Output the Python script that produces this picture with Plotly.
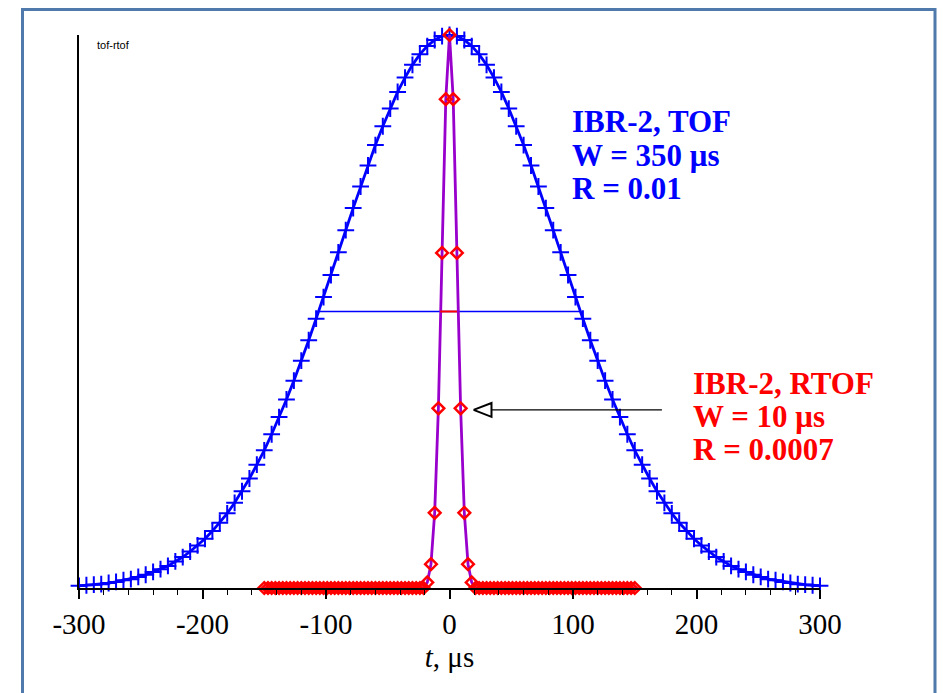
import plotly.graph_objects as go

# ---------------- data ----------------
tof_t = list(range(-300, 301, 6))
tof_y = [
    0.004, 0.005, 0.006, 0.007, 0.009, 0.011, 0.014, 0.016, 0.020, 0.024,
    0.029, 0.034, 0.040, 0.048, 0.056, 0.066, 0.077, 0.089, 0.103, 0.118,
    0.135, 0.154, 0.175, 0.198, 0.223, 0.249, 0.278, 0.309, 0.341, 0.375,
    0.411, 0.448, 0.487, 0.526, 0.566, 0.607, 0.647, 0.687, 0.726, 0.764,
    0.801, 0.835, 0.867, 0.897, 0.923, 0.946, 0.965, 0.980, 0.991, 0.998,
    1.000,
    0.998, 0.991, 0.980, 0.965, 0.946, 0.923, 0.897, 0.867, 0.835, 0.801,
    0.764, 0.726, 0.687, 0.647, 0.607, 0.566, 0.526, 0.487, 0.448, 0.411,
    0.375, 0.341, 0.309, 0.278, 0.249, 0.223, 0.198, 0.175, 0.154, 0.135,
    0.118, 0.103, 0.089, 0.077, 0.066, 0.056, 0.048, 0.040, 0.034, 0.029,
    0.024, 0.020, 0.016, 0.014, 0.011, 0.009, 0.007, 0.006, 0.005, 0.004,
]

rtof_t = list(range(-150, 151, 3))
rtof_y = [
    0, 0, 0, 0, 0, 0, 0, 0, 0, 0, 0, 0, 0, 0, 0, 0, 0, 0, 0, 0, 0, 0,
    0, 0, 0, 0, 0, 0, 0, 0, 0, 0, 0, 0, 0, 0, 0, 0, 0, 0, 0, 0, 0, 0,
    0.010, 0.043, 0.136, 0.325, 0.606, 0.884,
    1.000,
    0.884, 0.606, 0.325, 0.136, 0.043, 0.010,
    0, 0, 0, 0, 0, 0, 0, 0, 0, 0, 0, 0, 0, 0, 0, 0, 0, 0, 0, 0, 0, 0,
    0, 0, 0, 0, 0, 0, 0, 0, 0, 0, 0, 0, 0, 0, 0, 0, 0, 0, 0, 0, 0, 0,
]

tof_fwhm_t = [-107, 106]
tof_fwhm_y = [0.5, 0.5]
rtof_fwhm_t = [-7.5, 6]
rtof_fwhm_y = [0.5, 0.5]

arrow_line_t = [172, 34]
arrow_line_y = [0.322, 0.322]
arrow_head_t = [19.5, 34, 34, 19.5]
arrow_head_y = [0.322, 0.3345, 0.3095, 0.322]

x_ticks = [-300, -200, -100, 0, 100, 200, 300]
x_ticklabels = ["-300", "-200", "-100", "0", "100", "200", "300"]

tof_label = ["IBR-2, TOF", "W = 350 μs", "R = 0.01"]
rtof_label = ["IBR-2, RTOF", "W = 10 μs", "R = 0.0007"]

SERIF = "Liberation Serif, Times New Roman, serif"

# plot area in screen pixels (page has an 8px body margin)
PX_L, PX_R, PX_T, PX_B = 79, 820, 35, 588
OFF = 8


def px_x(px):
    return (px - PX_L) / (PX_R - PX_L)


def px_y(py):
    return (PX_B - py) / (PX_B - PX_T)


fig = go.Figure()

fig.add_trace(go.Scatter(
    x=tof_t, y=tof_y, mode="lines+markers",
    line=dict(color="#0000ff", width=2.8),
    marker=dict(symbol="cross-thin", size=12, line=dict(color="#0000ff", width=2)),
    cliponaxis=False, showlegend=False, hoverinfo="skip"))

fig.add_trace(go.Scatter(
    x=tof_fwhm_t, y=tof_fwhm_y, mode="lines",
    line=dict(color="#0000ff", width=1.5),
    showlegend=False, hoverinfo="skip"))

fig.add_trace(go.Scatter(
    x=rtof_t, y=rtof_y, mode="lines+markers",
    line=dict(color="#9900cc", width=2.8),
    marker=dict(symbol="diamond-open", size=9, color="#ff0000",
                line=dict(color="#ff0000", width=2.5)),
    cliponaxis=False, showlegend=False, hoverinfo="skip"))

fig.add_trace(go.Scatter(
    x=rtof_fwhm_t, y=rtof_fwhm_y, mode="lines",
    line=dict(color="#ff0000", width=2),
    showlegend=False, hoverinfo="skip"))

fig.add_trace(go.Scatter(
    x=arrow_line_t, y=arrow_line_y, mode="lines",
    line=dict(color="black", width=1.3),
    showlegend=False, hoverinfo="skip"))
fig.add_trace(go.Scatter(
    x=arrow_head_t, y=arrow_head_y, mode="lines",
    line=dict(color="black", width=2),
    showlegend=False, hoverinfo="skip"))

annotations = [
    dict(x=px_x(95), y=px_y(37), xref="paper", yref="paper", xanchor="left", yanchor="top",
         text="tof-rtof", showarrow=False,
         font=dict(family="Liberation Sans, Arial, sans-serif", size=11, color="black")),
]
for i, (txt, yc) in enumerate(zip(tof_label, [121, 155, 188])):
    annotations.append(dict(
        x=px_x(570), y=px_y(yc), xref="paper", yref="paper",
        xanchor="left", yanchor="middle", showarrow=False,
        text="<b>" + txt + "</b>",
        font=dict(family=SERIF, size=31, color="#0000ff")))
for i, (txt, yc) in enumerate(zip(rtof_label, [383, 416, 449])):
    annotations.append(dict(
        x=px_x(691), y=px_y(yc), xref="paper", yref="paper",
        xanchor="left", yanchor="middle", showarrow=False,
        text="<b>" + txt + "</b>",
        font=dict(family=SERIF, size=31, color="#ff0000")))

fig.update_layout(
    width=947, height=693,
    margin=dict(l=PX_L - OFF, r=947 - (PX_R - OFF), t=PX_T - OFF, b=693 - (PX_B - OFF)),
    paper_bgcolor="white", plot_bgcolor="white",
    xaxis=dict(
        range=[-300, 300], showgrid=False, zeroline=False,
        showline=True, linecolor="black", linewidth=1.5,
        ticks="outside", ticklen=9, tickwidth=1.5, tickcolor="black",
        tickvals=x_ticks, ticktext=x_ticklabels,
        tickfont=dict(family=SERIF, size=29, color="black"),
        minor=dict(dtick=20, ticks="outside", ticklen=5, tickwidth=1.2, tickcolor="black"),
        title=dict(text="<i>t</i>, μs", font=dict(family=SERIF, size=29, color="black"),
                   standoff=8),
    ),
    yaxis=dict(
        range=[0, 1.0], showgrid=False, zeroline=False,
        showline=True, linecolor="black", linewidth=2,
        showticklabels=False, ticks="",
    ),
    shapes=[dict(type="rect", xref="paper", yref="paper",
                 x0=px_x(22.5), x1=px_x(935), y0=px_y(720), y1=px_y(9.5),
                 line=dict(color="#4f7aab", width=3), layer="below")],
    annotations=annotations,
)

fig.write_html("out.html")
